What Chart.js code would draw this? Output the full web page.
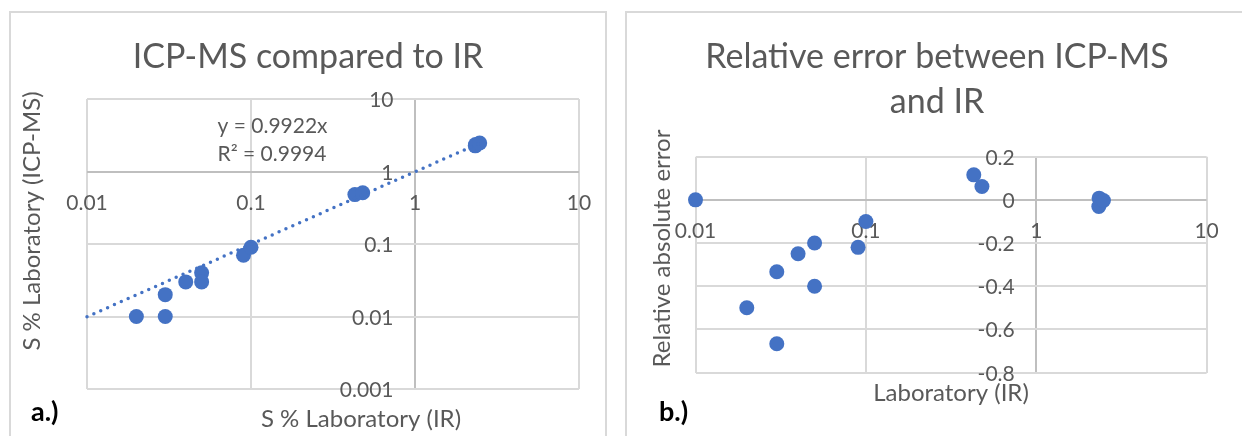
<!DOCTYPE html>
<html><head><meta charset="utf-8">
<script src="https://cdn.jsdelivr.net/npm/chart.js@4.4.1/dist/chart.umd.min.js"></script>
<style>
html,body{margin:0;padding:0;background:#fff;width:1242px;height:436px;overflow:hidden;position:relative;}
.box{position:absolute;border:2px solid #d9d9d9;box-sizing:border-box;}
canvas{position:absolute;top:0;}
</style></head><body>
<div class="box" style="left:9px;top:11px;width:598px;height:440px"></div>
<div class="box" style="left:625px;top:11px;width:640px;height:440px"></div>
<canvas id="c1" width="620" height="436" style="left:0px"></canvas>
<canvas id="c2" width="622" height="436" style="left:620px"></canvas>
<script>
// ---- Panel a: ICP-MS vs IR ----
const irA  = [0.02, 0.03, 0.03, 0.04, 0.05, 0.05, 0.09, 0.1, 0.43, 0.48, 2.33, 2.34, 2.48];
const icpA = [0.01, 0.01, 0.02, 0.03, 0.04, 0.03, 0.07, 0.09, 0.48, 0.51, 2.26, 2.36, 2.47];
const trendX = [0.01, 2.48];
const trendY = [0.00992, 2.46];
const xTicks = [0.01, 0.1, 1, 10];
const xTickLabels = ['0.01', '0.1', '1', '10'];
const yTicksA = [0.001, 0.01, 0.1, 1, 10];
const yTickLabelsA = ['0.001', '0.01', '0.1', '1', '10'];
// ---- Panel b: relative error ----
const irB = [0.01, 0.02, 0.03, 0.03, 0.04, 0.05, 0.05, 0.09, 0.1, 0.43, 0.48, 2.33, 2.34, 2.48];
const relErrB = [0, -0.5, -0.667, -0.333, -0.25, -0.2, -0.4, -0.22, -0.1, 0.116, 0.062, -0.031, 0.008, -0.003];
const yTicksB = [-0.8, -0.6, -0.4, -0.2, 0, 0.2];
const yTickLabelsB = ['-0.8', '-0.6', '-0.4', '-0.2', '0', '0.2'];

const BLUE = '#4472C4', GRID = '#d9d9d9', AXIS = '#bfbfbf', TXT = '#595959';
const FAMILY = 'Lato, "Open Sans", sans-serif';

const panelText = {
  id: 'panelText',
  beforeDatasetsDraw(chart, args, o) {
    const ctx = chart.ctx, xs = chart.scales.x, ys = chart.scales.y;
    ctx.save();
    ctx.fillStyle = TXT;
    ctx.font = '21px ' + FAMILY;
    ctx.textBaseline = 'alphabetic';
    ctx.textAlign = 'center';
    const yb = ys.getPixelForValue(o.xCross) + 38.5;
    o.xTicks.forEach((v, i) => ctx.fillText(o.xLabels[i], xs.getPixelForValue(v), yb));
    ctx.textAlign = 'right';
    const xr = xs.getPixelForValue(o.yCross) - 21.5;
    o.yTicks.forEach((v, i) => ctx.fillText(o.yLabels[i], xr, ys.getPixelForValue(v) + 8));
    ctx.restore();
  },
  afterDraw(chart, args, o) {
    const ctx = chart.ctx;
    o.texts.forEach(t => {
      ctx.save();
      ctx.font = t.font;
      ctx.fillStyle = t.color || TXT;
      ctx.textAlign = t.align || 'center';
      ctx.textBaseline = 'alphabetic';
      ctx.translate(t.x, t.y);
      if (t.rot) ctx.rotate(-Math.PI / 2);
      ctx.fillText(t.text, 0, 0);
      ctx.restore();
    });
  }
};

function gridOpts(cross) {
  return {
    drawTicks: false, lineWidth: 2,
    color: c => (c.tick && c.tick.value === cross) ? AXIS : GRID
  };
}

function makeChart(id, cfg) {
  return new Chart(document.getElementById(id), {
    type: 'scatter',
    data: { datasets: cfg.datasets },
    options: {
      responsive: false, animation: false, devicePixelRatio: 1,
      layout: { padding: cfg.padding },
      plugins: { legend: { display: false }, tooltip: { enabled: false }, title: { display: false }, panelText: cfg.text },
      scales: {
        x: {
          type: 'logarithmic', min: 0.01, max: 10, position: 'bottom',
          afterBuildTicks: s => { s.ticks = xTicks.map(v => ({ value: v })); },
          afterFit: s => { s.height = 0; },
          ticks: { display: false }, border: { display: false },
          grid: gridOpts(1)
        },
        y: Object.assign({
          position: 'left',
          afterFit: s => { s.width = 0; },
          ticks: { display: false }, border: { display: false }
        }, cfg.y)
      }
    },
    plugins: [panelText]
  });
}

const markerStyle = { pointRadius: 7.5, pointHoverRadius: 7.5, backgroundColor: BLUE, borderColor: BLUE, borderWidth: 0, pointBorderWidth: 0, clip: false };

makeChart('c1', {
  padding: { left: 87, right: 41, top: 99, bottom: 47 },
  datasets: [
    Object.assign({ label: 'ICP-MS', data: irA.map((x, i) => ({ x, y: icpA[i] })), order: 2 }, markerStyle),
    { label: 'Linear trend', data: trendX.map((x, i) => ({ x, y: trendY[i] })), showLine: true, pointRadius: 0,
      borderColor: BLUE, borderWidth: 3.5, borderDash: [0, 7.5], borderCapStyle: 'round', fill: false, clip: false, order: 1 }
  ],
  y: {
    type: 'logarithmic', min: 0.001, max: 10,
    afterBuildTicks: s => { s.ticks = yTicksA.map(v => ({ value: v })); },
    grid: gridOpts(1)
  },
  text: {
    xCross: 1, yCross: 1, xTicks: xTicks, xLabels: xTickLabels, yTicks: yTicksA, yLabels: yTickLabelsA,
    texts: [
      { text: 'ICP-MS compared to IR', x: 308, y: 68, font: '34px ' + FAMILY },
      { text: 'y = 0.9922x', x: 217.5, y: 133, font: '21px ' + FAMILY, align: 'left' },
      { text: 'R² = 0.9994', x: 217.5, y: 160.5, font: '21px ' + FAMILY, align: 'left' },
      { text: 'S % Laboratory (IR)', x: 361, y: 427, font: '24px ' + FAMILY },
      { text: 'S % Laboratory (ICP-MS)', x: 40, y: 221, font: '24px ' + FAMILY, rot: true },
      { text: 'a.)', x: 31, y: 421, font: 'bold 27px ' + FAMILY, align: 'left', color: '#000000' }
    ]
  }
});

makeChart('c2', {
  padding: { left: 75.5, right: 35.4, top: 156.7, bottom: 63.5 },
  datasets: [
    Object.assign({ label: 'Relative error', data: irB.map((x, i) => ({ x, y: relErrB[i] })) }, markerStyle)
  ],
  y: {
    type: 'linear', min: -0.8, max: 0.2,
    afterBuildTicks: s => { s.ticks = yTicksB.map(v => ({ value: v })); },
    grid: gridOpts(0)
  },
  text: {
    xCross: 0, yCross: 1, xTicks: xTicks, xLabels: xTickLabels, yTicks: yTicksB, yLabels: yTickLabelsB,
    texts: [
      { text: 'Relative error between ICP-MS', x: 317, y: 68, font: '34px ' + FAMILY },
      { text: 'and IR', x: 317, y: 113, font: '34px ' + FAMILY },
      { text: 'Laboratory (IR)', x: 331, y: 401, font: '24px ' + FAMILY },
      { text: 'Relative absolute error', x: 50, y: 248.5, font: '24px ' + FAMILY, rot: true },
      { text: 'b.)', x: 39, y: 421, font: 'bold 27px ' + FAMILY, align: 'left', color: '#000000' }
    ]
  }
});
</script></body></html>
